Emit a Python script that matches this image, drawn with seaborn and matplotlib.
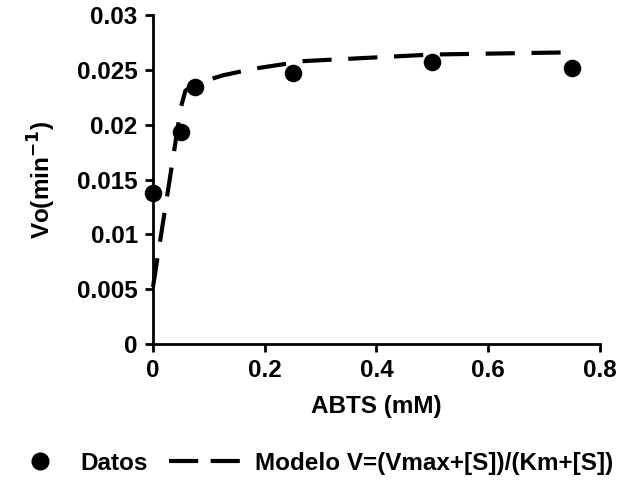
import matplotlib
matplotlib.use("Agg")
import matplotlib.pyplot as plt
import seaborn as sns
import pandas as pd
from matplotlib.lines import Line2D

# Data
abts = [0.0, 0.05, 0.075, 0.25, 0.5, 0.75]
vo_datos = [0.0138, 0.0193, 0.0234, 0.0247, 0.0257, 0.0252]
modelo_x = [0.0, 0.05, 0.058, 0.075, 0.125, 0.18, 0.27, 0.5, 0.75]
modelo_y = [0.0052, 0.0216, 0.0231, 0.0237, 0.0245, 0.0251, 0.0258, 0.0264, 0.0266]
x_ticks = [0, 0.2, 0.4, 0.6, 0.8]
x_labels = ["0", "0.2", "0.4", "0.6", "0.8"]
y_ticks = [0, 0.005, 0.01, 0.015, 0.02, 0.025, 0.03]
y_labels = ["0", "0.005", "0.01", "0.015", "0.02", "0.025", "0.03"]

sns.set_theme(style="white")
plt.rcParams["font.family"] = ["Liberation Sans", "DejaVu Sans"]
plt.rcParams["font.weight"] = "bold"
plt.rcParams["mathtext.default"] = "bf"
for key in ["text.color", "axes.labelcolor", "xtick.color", "ytick.color"]:
    plt.rcParams[key] = "black"

FS = 17.5

df = pd.DataFrame({"ABTS": abts, "Datos": vo_datos})
dm = pd.DataFrame({"ABTS": modelo_x, "Modelo": modelo_y})

fig = plt.figure(figsize=(6.38, 4.93), dpi=100)
ax = fig.add_axes([0.2398, 0.3022, 0.7006, 0.6673])

dash = (0, (7, 4))
sns.lineplot(data=dm, x="ABTS", y="Modelo", ax=ax, color="black",
             linewidth=3, linestyle=dash, clip_on=False, zorder=2)
sns.scatterplot(data=df, x="ABTS", y="Datos", ax=ax, color="black",
                s=160, edgecolor="black", linewidth=0, clip_on=False, zorder=3)

ax.set_xlim(0, 0.8)
ax.set_ylim(0, 0.03)
ax.set_xticks(x_ticks)
ax.set_xticklabels(x_labels)
ax.set_yticks(y_ticks)
ax.set_yticklabels(y_labels)
ax.tick_params(axis="both", direction="out", length=6, width=2, color="black",
               labelcolor="black", labelsize=FS, pad=5, bottom=True, left=True)
for lab in ax.get_xticklabels() + ax.get_yticklabels():
    lab.set_fontweight("bold")

for side in ["top", "right"]:
    ax.spines[side].set_visible(False)
for side in ["left", "bottom"]:
    ax.spines[side].set_color("black")
    ax.spines[side].set_linewidth(2)

ax.set_xlabel("ABTS (mM)", fontsize=FS, fontweight="bold", labelpad=9, color="black")
ax.set_ylabel(r"Vo(min$^{-1}$)", fontsize=FS, fontweight="bold", labelpad=14, color="black")

h_datos = Line2D([], [], marker="o", color="black", linestyle="none", markersize=12)
h_modelo = Line2D([], [], color="black", linewidth=3, linestyle=(0, (7, 3)))
leg1 = fig.legend([h_datos], ["Datos"], loc="center left",
                  bbox_to_anchor=(0.044, 0.06), frameon=False,
                  prop={"size": FS, "weight": "bold"}, handlelength=1.0,
                  handletextpad=1.14, borderpad=0, borderaxespad=0)
leg2 = fig.legend([h_modelo], ["Modelo V=(Vmax+[S])/(Km+[S])"], loc="center left",
                  bbox_to_anchor=(0.265, 0.06), frameon=False,
                  prop={"size": FS, "weight": "bold"}, handlelength=3.3,
                  handletextpad=0.25, borderpad=0, borderaxespad=0)
for leg in (leg1, leg2):
    for t in leg.get_texts():
        t.set_color("black")

fig.savefig("out.png", dpi=100)
